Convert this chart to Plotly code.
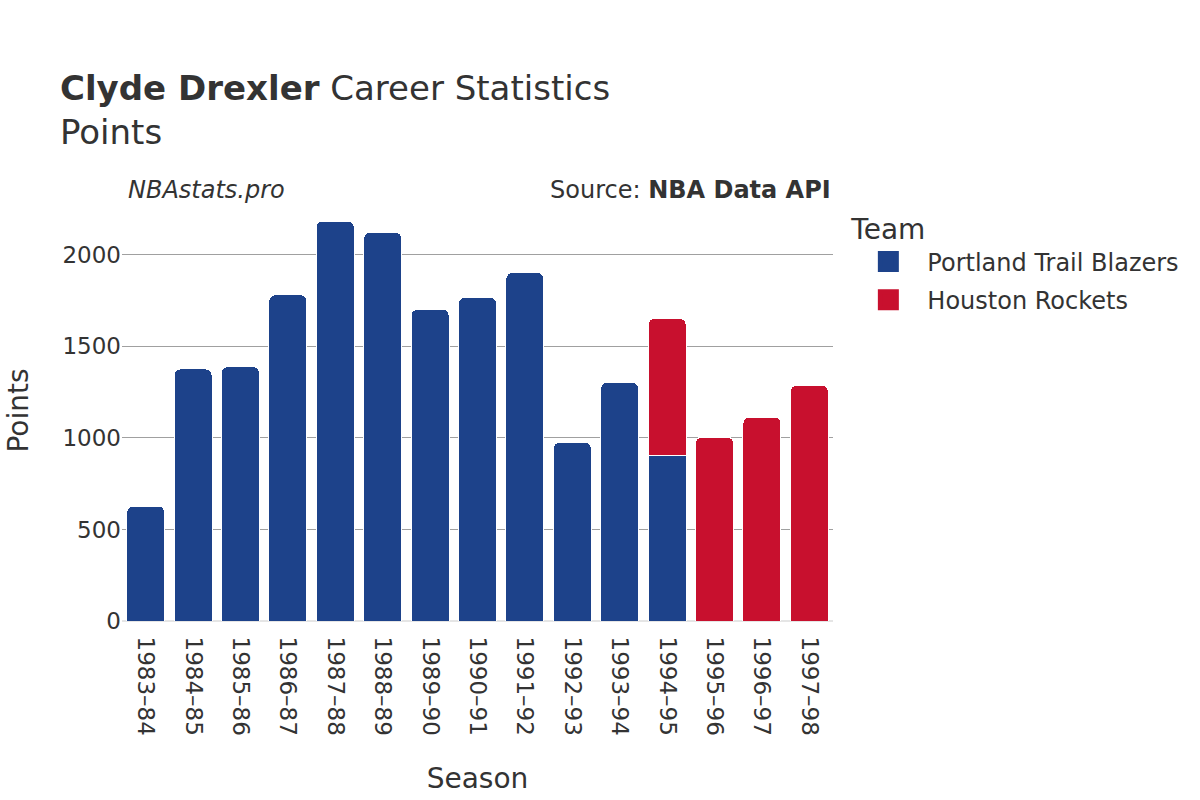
import plotly.graph_objects as go

seasons = ["1983–84", "1984–85", "1985–86", "1986–87", "1987–88", "1988–89", "1989–90",
           "1990–91", "1991–92", "1992–93", "1993–94", "1994–95", "1995–96", "1996–97", "1997–98"]
por_seasons = seasons[:12]
por_points = [628, 1377, 1389, 1782, 2185, 2123, 1703, 1767, 1903, 976, 1303, 904]
hou_seasons = seasons[11:]
hou_points = [749, 1005, 1114, 1287]

teams = ["Portland Trail Blazers", "Houston Rockets"]
colors = ["#1D428A", "#C8102E"]

font_family = "DejaVu Sans, sans-serif"
text_color = "#333333"

fig = go.Figure()
fig.add_trace(go.Bar(x=por_seasons, y=por_points, name=teams[0], showlegend=False,
                     marker=dict(color=colors[0], line=dict(color="white", width=1))))
fig.add_trace(go.Bar(x=hou_seasons, y=hou_points, name=teams[1], showlegend=False,
                     marker=dict(color=colors[1], line=dict(color="white", width=1))))
# legend entries (square swatches)
for team, col in zip(teams, colors):
    fig.add_trace(go.Scatter(x=[None], y=[None], mode="markers", name=team,
                             legendgroup=team,
                             marker=dict(symbol="square", size=16, color=col,
                                         line=dict(color=col, width=5))))

fig.update_layout(
    width=1200, height=800,
    barmode="stack", bargap=0.2, barcornerradius=6,
    plot_bgcolor="white", paper_bgcolor="white",
    font=dict(family=font_family, size=23, color=text_color),
    margin=dict(l=122, r=367, t=200, b=179),
    title=dict(text="<b>Clyde Drexler</b> Career Statistics<br>Points",
               x=0.05, xanchor="left", y=0.875, yanchor="top",
               font=dict(size=34, color=text_color)),
    legend=dict(title=dict(text="Team", font=dict(size=28)), font=dict(size=24),
                x=1.023, y=0.993, xanchor="left", yanchor="top", itemsizing="trace",
                itemwidth=68, traceorder="grouped", tracegroupgap=4),
    xaxis=dict(title=dict(text="Season", font=dict(size=28), standoff=33), tickangle=90,
               categoryorder="array", categoryarray=seasons,
               showline=False, ticks="outside", ticklen=10, tickcolor="rgba(0,0,0,0)",
               tickfont=dict(size=23)),
    yaxis=dict(title=dict(text="Points", font=dict(size=28), standoff=25), showgrid=True,
               gridcolor="#A0A0A0", gridwidth=1, zeroline=True, zerolinecolor="#E5E5E5",
               zerolinewidth=2, ticks="", tickfont=dict(size=23),
               tickvals=[0, 500, 1000, 1500, 2000]),
    annotations=[
        dict(text="<i>NBAstats.pro</i>", x=0.0, y=1.0, xref="paper", yref="paper",
             xanchor="left", yanchor="bottom", xshift=4, yshift=-6, showarrow=False,
             font=dict(size=24, color=text_color)),
        dict(text="Source: <b>NBA Data API</b>", x=1.0, y=1.0, xref="paper", yref="paper",
             xanchor="right", yanchor="bottom", yshift=-6, showarrow=False,
             font=dict(size=24, color=text_color)),
    ],
)

fig.write_html("out.html", config={"displayModeBar": False},
               post_script="document.body.style.margin='0';")
